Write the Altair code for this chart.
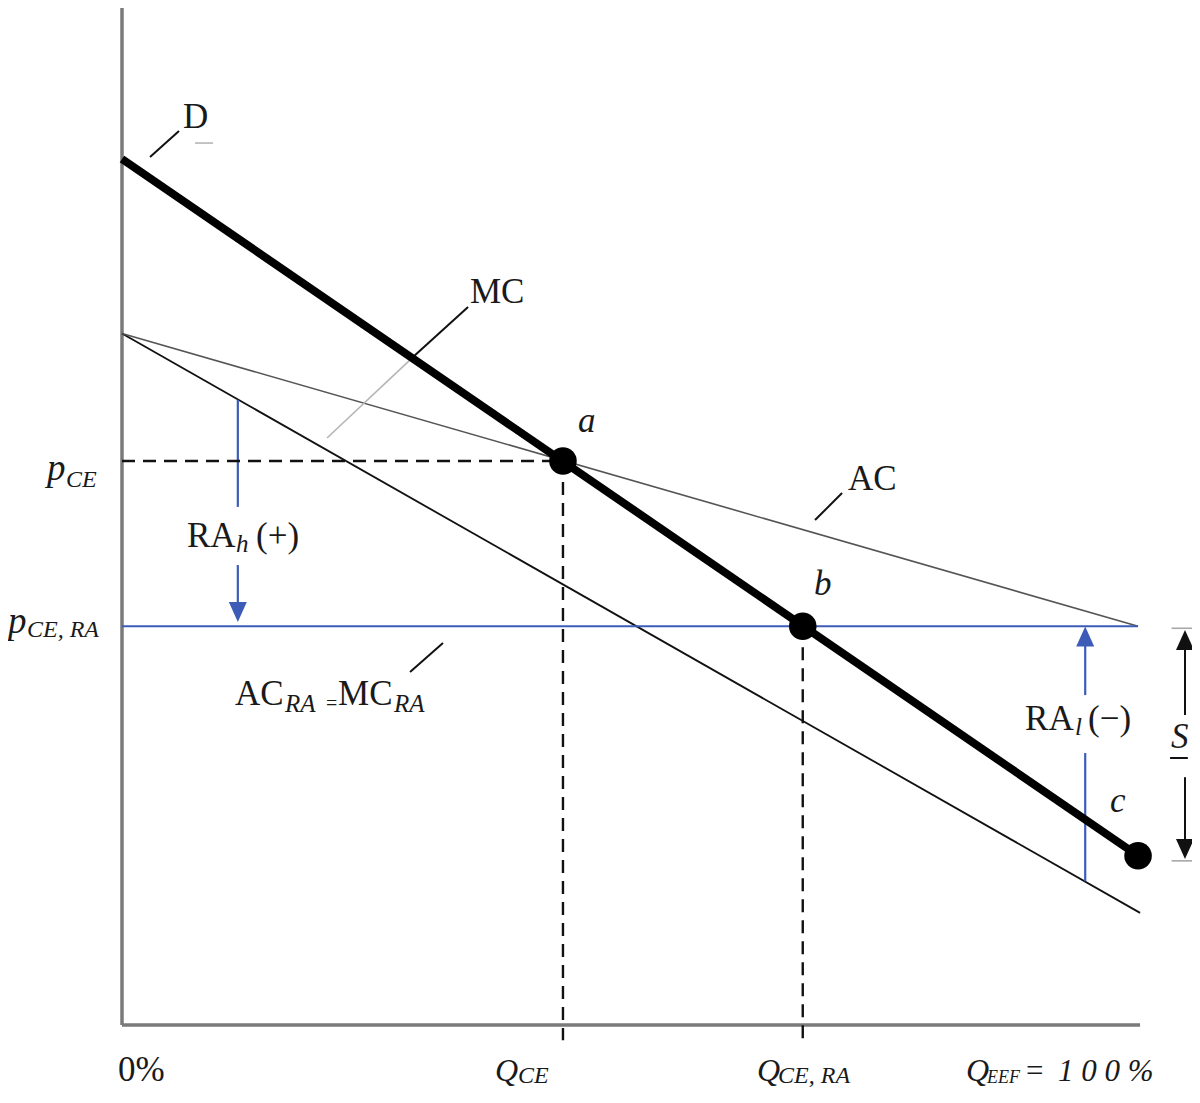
import altair as alt
import pandas as pd

# ---------------- data (quantity in %, price in arbitrary units) ----------------
X_DOMAIN = [-11.22, 105.31]
Y_DOMAIN = [-6.17, 99.71]

axis_top = 100.0
axis_right = 100.2

demand_x = [0, 100]
demand_y = [84.9, 16.6]
ac_x = [0, 100]
ac_y = [67.8, 39.1]
mc_x = [0, 100.2]
mc_y = [67.8, 11.0]

p_ce = 55.3
p_ce_ra = 39.1
q_ce = 43.4
q_ce_ra = 67.0
q_eef = 100.0

point_x = [q_ce, q_ce_ra, q_eef]
point_y = [p_ce, p_ce_ra, 16.6]

# RA arrows (blue), S arrow (black)
ra_h_x = 11.4
ra_h_segments = [(61.3, 50.8), (45.1, 40.5)]
ra_h_head = 40.5
ra_l_x = 94.8
ra_l_segments = [(37.25, 32.35), (26.67, 14.1)]
ra_l_head = 38.1
s_x = 104.62
s_segments = [(36.8, 30.4), (24.3, 18.1)]
s_head_up = 37.75
s_head_down = 17.25
s_ticks_y = [38.9, 16.1]
s_ticks_x = [103.3, 105.4]

# leader lines: (x, y, x2, y2, kind)
leaders = [
    (2.76, 85.1, 5.61, 87.65, "leader"),        # D
    (7.19, 86.47, 8.96, 86.47, "leader_gray"),  # faint mark under D
    (34.06, 70.39, 28.64, 65.49, "leader"),     # MC (black part)
    (28.64, 65.49, 20.18, 57.55, "leader_gray"),# MC (grey part)
    (70.87, 52.16, 68.21, 49.51, "leader"),     # AC
    (28.35, 34.61, 31.59, 37.45, "leader"),     # AC_RA = MC_RA
]

# labels: (x, y, text, style)
labels = [
    (6.00, 87.94, "D", "main"),
    (34.25, 70.78, "MC", "main"),
    (71.46, 52.45, "AC", "main"),
    (44.88, 58.14, "a", "ital"),
    (68.11, 42.16, "b", "ital"),
    (97.24, 20.88, "c", "ital"),
    (11.12, 31.37, "AC", "main"),
    (16.04, 30.69, "RA", "sub25"),
    (20.08, 30.88, "=", "eq"),
    (21.26, 31.37, "MC", "main"),
    (26.77, 30.69, "RA", "sub25"),
    (-7.38, 53.43, "p", "p"),
    (-5.51, 52.75, "CE", "sub"),
    (-11.22, 38.43, "p", "p"),
    (-9.35, 38.04, "CE, RA", "sub"),
    (6.40, 46.86, "RA", "main"),
    (11.22, 46.37, "h", "sub25"),
    (13.19, 46.86, "(+)", "main"),
    (88.88, 28.92, "RA", "main"),
    (93.80, 28.43, "l", "sub25"),
    (95.08, 28.92, "(\u2212)", "main"),
    (103.25, 27.16, "S", "ital"),
    (-0.39, -5.49, "0%", "main"),
    (36.71, -5.49, "Q", "q"),
    (38.98, -5.69, "CE", "sub"),
    (62.50, -5.49, "Q", "q"),
    (64.57, -5.69, "CE, RA", "sub"),
    (83.07, -5.49, "Q", "q"),
    (85.14, -5.69, "EEF", "subn"),
    (88.78, -5.49, "=", "pct"),
    (92.12, -5.49, "1 0 0 %", "pct"),
]

# ---------------- build tables ----------------
segs = []
segs.append((0, 0, 0, axis_top, "axis"))
segs.append((0, 0, axis_right, 0, "axis"))
segs.append((mc_x[0], mc_y[0], mc_x[1], mc_y[1], "mc"))
segs.append((ac_x[0], ac_y[0], ac_x[1], ac_y[1], "ac"))
segs.append((0, p_ce_ra, q_eef, p_ce_ra, "blue"))
for a, b in ra_h_segments:
    segs.append((ra_h_x, a, ra_h_x, b, "blue"))
for a, b in ra_l_segments:
    segs.append((ra_l_x, a, ra_l_x, b, "blue"))
for a, b in s_segments:
    segs.append((s_x, a, s_x, b, "sarrow"))
for ty in s_ticks_y:
    segs.append((s_ticks_x[0], ty, s_ticks_x[1], ty, "tick_gray"))
segs.append((103.15, 26.18, 104.9, 26.18, "sarrow"))  # underline of S
segs.append((0, p_ce, q_ce, p_ce, "dash"))
segs.append((q_ce, p_ce, q_ce, -1.5, "dash"))
segs.append((q_ce_ra, p_ce_ra, q_ce_ra, -2.0, "dash"))
for l in leaders:
    segs.append(l)
segs.append((demand_x[0], demand_y[0], demand_x[1], demand_y[1], "demand"))

seg_df = pd.DataFrame(segs, columns=["x", "y", "x2", "y2", "kind"])

styles = {
    "axis": dict(color="#7a7a7a", strokeWidth=3.5),
    "mc": dict(color="#111111", strokeWidth=1.8),
    "ac": dict(color="#555555", strokeWidth=1.6),
    "blue": dict(color="#3d5cb8", strokeWidth=2.2),
    "sarrow": dict(color="#111111", strokeWidth=2.0),
    "tick_gray": dict(color="#a8a8a8", strokeWidth=1.6),
    "dash": dict(color="#111111", strokeWidth=2.4, strokeDash=[13, 8]),
    "leader": dict(color="#111111", strokeWidth=2.0),
    "leader_gray": dict(color="#b5b5b5", strokeWidth=1.6),
    "demand": dict(color="#000000", strokeWidth=8),
}

xs = alt.Scale(domain=X_DOMAIN, nice=False, zero=False)
ys = alt.Scale(domain=Y_DOMAIN, nice=False, zero=False)

def X(f="x"):
    return alt.X(f"{f}:Q", scale=xs, axis=None)

def Y(f="y"):
    return alt.Y(f"{f}:Q", scale=ys, axis=None)

layers = []
for kind in ["axis", "mc", "ac", "blue", "sarrow", "tick_gray", "dash",
             "leader", "leader_gray", "demand"]:
    d = seg_df[seg_df.kind == kind]
    layers.append(
        alt.Chart(d).mark_rule(**styles[kind]).encode(
            x=X(), y=Y(), x2="x2:Q", y2="y2:Q"
        )
    )

# points a, b, c
pts = pd.DataFrame({"x": point_x, "y": point_y})
layers.append(
    alt.Chart(pts).mark_circle(size=760, color="black", opacity=1).encode(x=X(), y=Y())
)

# arrowheads
UP = "M-0.9,1 L0.9,1 L0,-1 Z"
DOWN = "M-0.9,-1 L0.9,-1 L0,1 Z"
heads = [
    (ra_h_x, ra_h_head, DOWN, "#3d5cb8"),
    (ra_l_x, ra_l_head, UP, "#3d5cb8"),
    (s_x, s_head_up, UP, "#111111"),
    (s_x, s_head_down, DOWN, "#111111"),
]
for hx, hy, shp, col in heads:
    layers.append(
        alt.Chart(pd.DataFrame({"x": [hx], "y": [hy]}))
        .mark_point(shape=shp, size=400, filled=True, opacity=1, color=col, strokeWidth=0)
        .encode(x=X(), y=Y())
    )

# text
text_styles = {
    "main": dict(fontSize=35, fontStyle="normal"),
    "ital": dict(fontSize=35, fontStyle="italic"),
    "p": dict(fontSize=37, fontStyle="italic"),
    "q": dict(fontSize=32, fontStyle="italic"),
    "sub": dict(fontSize=24, fontStyle="italic"),
    "subn": dict(fontSize=18, fontStyle="italic"),
    "sub25": dict(fontSize=25, fontStyle="italic"),
    "eq": dict(fontSize=20, fontStyle="normal"),
    "pct": dict(fontSize=31, fontStyle="italic"),
}
lab_df = pd.DataFrame(labels, columns=["x", "y", "text", "style"])
for st, props in text_styles.items():
    d = lab_df[lab_df["style"] == st]
    if len(d) == 0:
        continue
    layers.append(
        alt.Chart(d).mark_text(
            font="Liberation Serif", align="left", baseline="alphabetic",
            color="#1a1a1a", **props
        ).encode(x=X(), y=Y(), text="text:N")
    )

chart = alt.layer(*layers).properties(
    width=1184, height=1080,
    autosize=alt.AutoSizeParams(type="none"),
    padding=0,
    background="white",
).configure_view(stroke=None)

chart.save("out.html", embed_options={"renderer": "svg", "actions": False})
